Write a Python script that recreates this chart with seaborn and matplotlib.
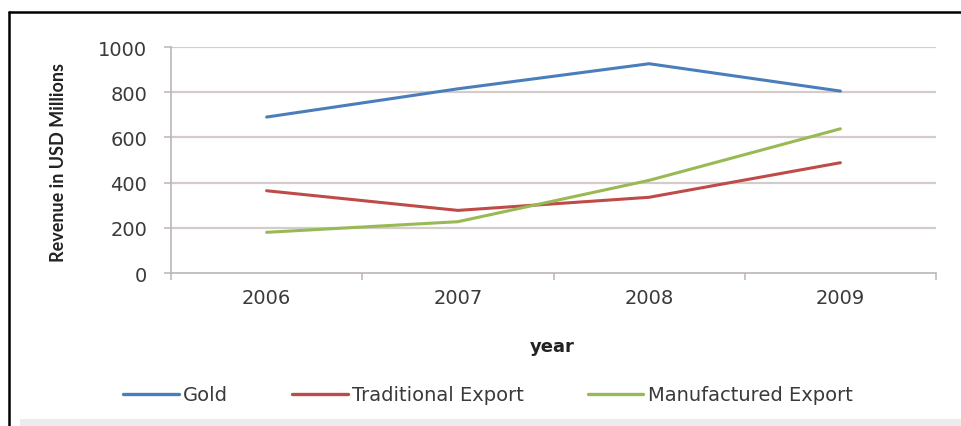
import matplotlib
matplotlib.use("Agg")
import matplotlib.pyplot as plt
from matplotlib.lines import Line2D
from matplotlib.patches import Rectangle
import seaborn as sns
import pandas as pd

years = ["2006", "2007", "2008", "2009"]
gold = [690, 815, 926, 805]
traditional = [364, 277, 335, 488]
manufactured = [180, 227, 410, 638]
series_names = ["Gold", "Traditional Export", "Manufactured Export"]
series_colors = ["#4a7ebb", "#be4b48", "#98b954"]
y_ticks = [0, 200, 400, 600, 800, 1000]

df = pd.DataFrame({
    "year": years * 3,
    "revenue": gold + traditional + manufactured,
    "series": [s for s in series_names for _ in years],
})

sns.set_theme(style="white")
plt.rcParams["font.family"] = ["DejaVu Sans"]

fig = plt.figure(figsize=(9.62, 4.27), dpi=100)
fig.patch.set_facecolor("white")

W, H = 962, 427
def fx(px):
    return px / W
def fy(py):
    return 1 - py / H

# frame lines and bottom band
fig.add_artist(Line2D([fx(9), 1], [fy(13), fy(13)], color="black", lw=1.8))
fig.add_artist(Line2D([fx(9), fx(9)], [fy(13), 0], color="black", lw=1.8))
fig.add_artist(Rectangle((fx(20), 0), 1 - fx(20), fy(420), color="#ececec", lw=0))

ax = fig.add_axes([fx(171), fy(274), fx(936) - fx(171), fy(48) - fy(274)])
ax.set_facecolor("none")

sns.lineplot(data=df, x="year", y="revenue", hue="series", palette=series_colors,
             hue_order=series_names, sort=False, lw=2.2, ax=ax, legend=False)

ax.set_xlim(-0.5, 3.5)
ax.set_ylim(0, 1000)
ax.set_yticks(y_ticks)
ax.set_yticklabels([str(v) for v in y_ticks])
ax.set_xticks(range(len(years)))
ax.set_xticklabels(years)
ax.set_xticks([i - 0.5 for i in range(len(years) + 1)], minor=True)

for v in y_ticks[1:]:
    ax.axhline(v, color="#d4cbca", lw=1.6, zorder=0)

for side in ["top", "right"]:
    ax.spines[side].set_visible(False)
for side in ["left", "bottom"]:
    ax.spines[side].set_color("#bcb5b5")
    ax.spines[side].set_linewidth(1.2)

ax.tick_params(axis="y", which="major", direction="out", length=5, width=1.1,
               color="#bcb5b5", left=True, pad=12, labelsize=14, labelcolor="#3a3a3a")
ax.tick_params(axis="x", which="major", length=0, pad=11, labelsize=14,
               labelcolor="#3a3a3a")
ax.tick_params(axis="x", which="minor", direction="out", length=5, width=1.1,
               color="#bcb5b5", bottom=True)

ax.set_xlabel("year", fontsize=13, fontweight="bold", color="#222222")
ax.xaxis.set_label_coords(0.498, -0.283)
ax.set_ylabel("Revenue in USD Millions", fontsize=13, fontweight="bold",
              color="#222222", family=["Lato", "DejaVu Sans"])
ax.yaxis.set_label_coords(-0.136, 0.493)
ax.grid(False)

handles = [Line2D([0], [0], color=c, lw=2.4) for c in series_colors]
fig.legend(handles, series_names, loc="center", ncol=3, frameon=False,
           bbox_to_anchor=(fx(488), fy(396)), fontsize=14, handlelength=2.85,
           handletextpad=0.22, columnspacing=3.3, labelcolor="#3a3a3a")

fig.savefig("out.png", dpi=100, facecolor="white")
